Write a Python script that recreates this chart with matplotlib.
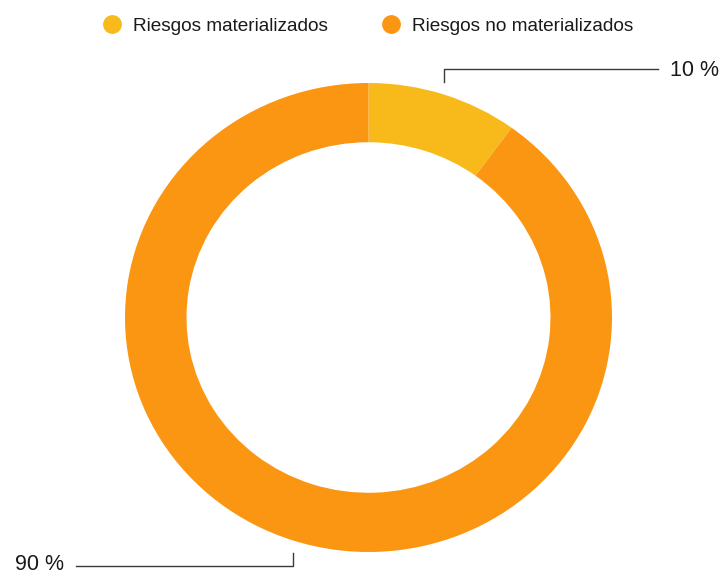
import matplotlib.pyplot as plt
import numpy as np
from matplotlib.lines import Line2D

plt.rcParams['font.family'] = ['Liberation Sans', 'DejaVu Sans']

# Risk share data
categories = ['Riesgos materializados', 'Riesgos no materializados']
shares = [10, 90]
share_labels = ['10 %', '90 %']
colors = ['#F8BA1A', '#FB9612']

W, H = 726, 575
fig = plt.figure(figsize=(W / 100, H / 100), dpi=100)

# ring bounding box in pixels
cx, cy = 368.5, 317.5
rx, ry = 243.5, 234.5
ring = 61.5 / 243.5

ax = fig.add_axes([(cx - rx) / W, (H - cy - ry) / H, 2 * rx / W, 2 * ry / H])
wedges, _ = ax.pie(shares, colors=colors, startangle=90, counterclock=False,
                   radius=1, wedgeprops=dict(width=ring, edgecolor='none'))
ax.set_aspect('auto')
ax.set_xlim(-1, 1)
ax.set_ylim(-1, 1)
ax.axis('off')

# overlay in pixel coordinates for leader lines
ov = fig.add_axes([0, 0, 1, 1], facecolor='none')
ov.set_xlim(0, W)
ov.set_ylim(H, 0)
ov.axis('off')

line_kw = dict(color='#3a3a3a', lw=1.0)
txt_kw = dict(fontsize=15.5, color='#1a1a1a', va='center')

for w, lab in zip(wedges, share_labels):
    mid = np.deg2rad((w.theta1 + w.theta2) / 2)
    px = cx + rx * np.cos(mid)
    py = cy - ry * np.sin(mid)
    if np.sin(mid) > 0:
        y0, y1 = py - 12, py - 25
        ov.plot([px, px, 658], [y0, y1, y1], **line_kw)
        ov.text(670, y1 + 1, lab, ha='left', **txt_kw)
    else:
        y0, y1 = py + 12, py + 25
        ov.plot([px, px, 76], [y0, y1, y1], **line_kw)
        ov.text(64, y1 - 1.5, lab, ha='right', **txt_kw)

handles = [Line2D([], [], ls='none', marker='o', markersize=12.5, color=c) for c in colors]
fig.legend(handles, categories, loc='center', bbox_to_anchor=(368 / W, 1 - 26 / H),
           ncol=2, frameon=False, fontsize=13.7, handletextpad=0.6,
           columnspacing=2.8, handlelength=1.0, labelcolor='#1a1a1a')

fig.savefig('out.png', dpi=100, facecolor='white')
